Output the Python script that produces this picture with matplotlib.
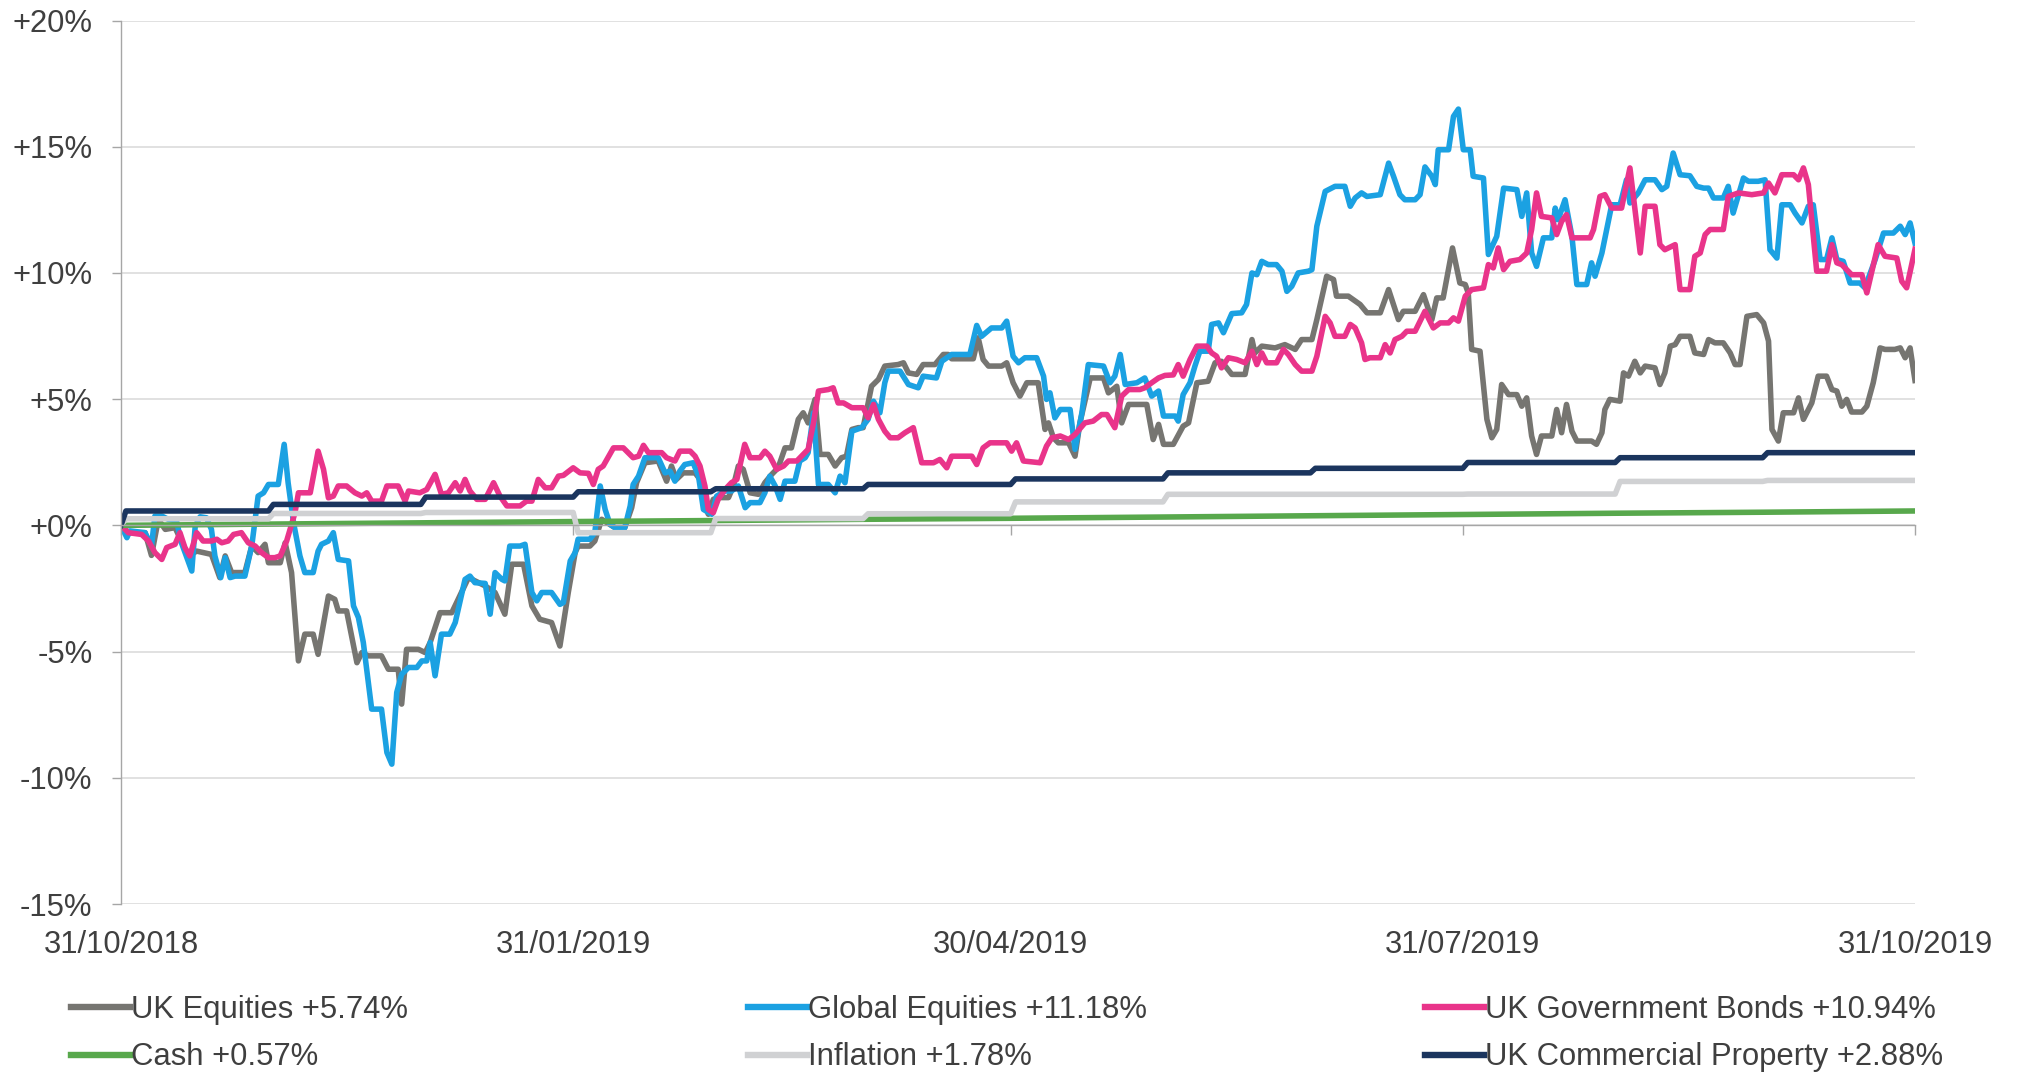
"""Asset class returns, 31/10/2018 - 31/10/2019"""
import numpy as np
import pandas as pd
import matplotlib
matplotlib.use('Agg')
import matplotlib.pyplot as plt
from matplotlib.ticker import FuncFormatter

plt.rcParams['font.family'] = ['Liberation Sans', 'DejaVu Sans']

start = pd.Timestamp('2018-10-31')

# daily series: (days since 31/10/2018, % return)
uk_eq_days = [0, 1.5, 4.9, 6.2, 7.6, 9.0, 11.0, 13.7, 15.4, 18.4, 20.1, 21.2, 22.5, 25.2, 26.6, 27.9, 29.3, 30.0,
              32.4, 33.4, 34.7, 36.1, 37.4, 39.1, 40.1, 42.2, 43.5, 44.2, 45.9, 48.0, 49.0, 50.3, 53.0, 54.4, 56.4,
              57.1, 58.1, 60.5, 61.9, 62.9, 64.9, 67.3, 70.7, 74.1, 76.1, 78.1, 79.5, 81.9, 83.6, 85.2, 87.6, 89.3,
              91.0, 92.4, 93.0, 95.4, 96.4, 97.8, 100.5, 102.5, 103.9, 104.9, 106.6, 109.3, 111.0, 112.0, 113.0,
              114.4, 116.8, 117.8, 118.8, 119.5, 120.5, 121.5, 123.6, 124.6, 125.6, 126.6, 128.0, 129.7, 131.0,
              132.4, 133.7, 135.1, 136.4, 137.8, 138.8, 139.8, 141.2, 142.2, 143.9, 145.3, 146.6, 147.6, 148.7,
              150.0, 151.0, 152.7, 154.1, 155.4, 158.1, 159.2, 160.2, 161.9, 163.2, 165.6, 167.3, 168.3, 169.0,
              173.4, 174.4, 175.4, 176.5, 179.2, 180.2, 181.5, 182.9, 184.3, 186.6, 188.0, 188.7, 189.7, 190.7,
              192.8, 194.1, 195.1, 197.2, 199.9, 200.9, 202.6, 203.6, 205.0, 208.7, 210.0, 211.1, 212.1, 214.1,
              216.1, 217.2, 218.9, 221.2, 222.6, 223.9, 226.0, 228.7, 230.1, 230.7, 232.1, 234.8, 236.8, 238.9,
              240.2, 242.3, 243.3, 245.3, 246.7, 247.3, 249.7, 252.1, 253.5, 256.2, 257.9, 259.9, 260.9, 263.3,
              265.0, 266.0, 266.7, 267.7, 269.0, 270.9, 272.4, 273.5, 274.1, 274.8, 276.5, 277.9, 278.9, 279.9,
              280.9, 282.3, 284.0, 285.0, 286.0, 287.0, 288.0, 289.0, 291.1, 292.1, 293.1, 294.1, 295.2, 296.2,
              299.2, 300.2, 301.3, 301.9, 302.9, 305.0, 305.7, 306.7, 308.0, 309.1, 310.1, 312.1, 313.1, 314.1,
              315.2, 316.2, 317.2, 319.2, 320.2, 322.0, 323.0, 324.3, 326.0, 327.4, 328.4, 329.4, 330.8, 332.8,
              334.2, 335.2, 335.9, 337.2, 338.2, 340.3, 341.3, 342.3, 344.0, 345.3, 347.0, 348.1, 349.1, 350.1,
              351.1, 352.1, 354.2, 355.2, 356.5, 357.9, 358.9, 360.9, 362.0, 363.0, 364.0, 365.0]
uk_eq_vals = [0, -0.29, -0.29, -1.19, 0.24, -0.16, -0.09, -1.21, -1.02, -1.15, -2.07, -1.21, -1.87, -1.87, -0.82,
              -1.08, -0.75, -1.48, -1.48, -0.69, -1.87, -5.37, -4.31, -4.31, -5.11, -2.80, -2.93, -3.39, -3.39,
              -5.44, -5.04, -5.17, -5.17, -5.70, -5.70, -7.08, -4.91, -4.91, -5.04, -4.64, -3.46, -3.46, -2.07,
              -2.40, -2.66, -3.52, -1.54, -1.54, -3.19, -3.72, -3.85, -4.78, -2.66, -1.08, -0.82, -0.82, -0.62,
              0.24, -0.09, -0.09, 0.70, 1.69, 2.48, 2.55, 1.75, 2.35, 1.82, 2.08, 2.08, 1.82, 0.77, 0.44, 1.03,
              1.10, 1.10, 1.56, 2.35, 2.22, 1.29, 1.23, 1.69, 2.02, 2.28, 3.07, 3.07, 4.20, 4.46, 4.06, 4.99, 2.81,
              2.81, 2.35, 2.68, 2.74, 3.80, 3.87, 3.87, 5.51, 5.78, 6.31, 6.37, 6.44, 6.04, 5.98, 6.37, 6.37, 6.77,
              6.77, 6.60, 6.60, 7.43, 6.57, 6.31, 6.31, 6.44, 5.65, 5.12, 5.65, 5.65, 3.80, 4.06, 3.47, 3.27, 3.27,
              2.74, 4.06, 5.84, 5.84, 5.25, 5.51, 4.06, 4.79, 4.79, 3.40, 4.00, 3.21, 3.21, 3.93, 4.06, 5.65, 5.71,
              6.44, 6.50, 5.98, 5.98, 7.36, 6.83, 7.10, 7.03, 7.16, 6.97, 7.36, 7.36, 8.15, 9.87, 9.74, 9.08, 9.08,
              8.75, 8.42, 8.42, 9.34, 8.15, 8.48, 8.48, 9.14, 8.55, 8.15, 9.01, 9.01, 10.99, 9.60, 9.54, 9.21, 6.97,
              6.90, 4.20, 3.47, 3.80, 5.58, 5.18, 5.18, 4.72, 5.05, 3.54, 2.81, 3.54, 3.54, 4.59, 3.67, 4.79, 3.73,
              3.34, 3.34, 3.21, 3.67, 4.59, 4.99, 4.92, 6.04, 5.91, 6.50, 6.04, 6.31, 6.24, 5.58, 6.04, 7.10, 7.16,
              7.49, 7.49, 6.83, 6.77, 7.36, 7.23, 7.23, 6.83, 6.37, 6.37, 8.28, 8.35, 8.02, 7.30, 3.80, 3.34, 4.46,
              4.46, 5.05, 4.20, 4.85, 5.91, 5.91, 5.38, 5.32, 4.72, 4.99, 4.49, 4.49, 4.72, 5.65, 7.03, 6.97, 6.97,
              7.03, 6.64, 7.03, 5.74]

gl_eq_days = [0, 1.2, 1.8, 4.9, 6.2, 6.9, 8.3, 9.6, 11.3, 12.3, 14.4, 15.1, 16.1, 17.4, 18.4, 19.1, 20.3, 21.2,
              22.2, 23.2, 25.2, 26.6, 27.9, 29.0, 30.0, 32.0, 33.2, 34.0, 35.1, 36.4, 37.4, 39.1, 40.1, 40.8, 42.2,
              43.2, 44.2, 46.3, 47.3, 48.3, 49.3, 51.0, 53.0, 54.1, 55.1, 56.1, 57.1, 58.5, 60.2, 61.2, 62.2, 62.9,
              63.9, 65.2, 66.9, 68.0, 70.0, 71.0, 72.0, 74.1, 75.1, 76.1, 77.5, 78.1, 79.1, 81.2, 82.2, 83.6, 84.6,
              85.6, 87.6, 89.3, 90.0, 91.4, 92.4, 93.0, 95.4, 96.4, 97.5, 98.5, 99.5, 100.5, 102.5, 103.6, 104.2,
              105.3, 106.6, 109.3, 110.7, 111.7, 112.7, 113.7, 114.7, 116.4, 117.5, 118.5, 120.2, 121.2, 122.9,
              124.2, 125.6, 127.0, 128.0, 130.0, 131.0, 132.0, 133.1, 134.1, 135.1, 137.1, 138.1, 139.2, 139.8,
              140.9, 141.9, 143.9, 145.3, 146.3, 147.3, 148.7, 150.7, 152.0, 153.1, 154.4, 155.4, 156.1, 158.5,
              160.2, 162.2, 163.2, 165.9, 167.0, 169.0, 172.7, 174.1, 175.1, 177.1, 179.2, 180.2, 181.5, 182.6,
              183.9, 186.3, 187.7, 188.3, 189.0, 190.0, 191.1, 193.1, 194.1, 195.5, 196.8, 199.9, 201.2, 202.2,
              203.3, 204.3, 206.7, 208.3, 209.7, 211.1, 212.1, 214.5, 215.1, 216.1, 217.5, 218.5, 219.5, 221.2,
              221.9, 223.3, 224.3, 226.0, 228.0, 229.0, 230.1, 231.1, 232.1, 233.4, 235.1, 236.2, 237.2, 238.2,
              239.5, 241.6, 242.3, 243.3, 245.0, 247.0, 249.0, 250.1, 251.1, 252.4, 253.5, 256.2, 257.9, 258.9,
              260.2, 261.2, 263.3, 264.3, 265.3, 266.7, 267.4, 268.0, 270.1, 271.1, 272.1, 273.1, 274.5, 275.1,
              277.2, 278.2, 279.9, 281.3, 284.0, 285.0, 286.0, 287.0, 288.0, 289.4, 291.1, 291.8, 292.4, 293.8,
              295.2, 296.2, 298.2, 299.2, 299.9, 301.3, 302.6, 303.3, 305.0, 306.3, 307.0, 308.7, 310.1, 312.1,
              313.5, 314.5, 315.8, 317.2, 319.2, 320.6, 322.0, 323.0, 324.0, 326.0, 327.0, 328.0, 330.1, 331.1,
              333.1, 334.5, 335.5, 336.9, 337.9, 339.6, 340.6, 342.0, 343.3, 344.3, 345.7, 347.0, 348.1, 349.1,
              350.4, 351.8, 353.8, 354.8, 356.9, 358.6, 360.6, 362.0, 363.0, 364.0, 365.0]
gl_eq_vals = [0, -0.49, -0.22, -0.29, -0.82, 0.37, 0.37, 0.24, 0.17, -0.69, -1.81, -0.03, 0.34, 0.30, -0.16,
              -1.21, -2.07, -1.28, -2.07, -2.01, -2.01, -0.82, 1.16, 1.29, 1.62, 1.62, 3.21, 1.69, 0.11, -1.21,
              -1.87, -1.87, -1.02, -0.75, -0.62, -0.29, -1.35, -1.41, -3.19, -3.65, -4.64, -7.28, -7.28, -9.00,
              -9.46, -6.62, -5.90, -5.63, -5.63, -5.37, -5.37, -4.64, -5.96, -4.31, -4.31, -3.85, -2.14, -2.01,
              -2.27, -2.30, -3.52, -1.87, -2.14, -2.20, -0.82, -0.82, -0.75, -2.66, -2.99, -2.66, -2.66, -3.13,
              -3.06, -1.41, -1.08, -0.55, -0.55, -0.29, 1.56, 0.63, 0.04, -0.09, -0.09, 0.77, 1.62, 1.95, 2.68,
              2.68, 2.08, 2.15, 1.75, 2.15, 2.41, 2.48, 1.95, 0.63, 0.44, 1.16, 1.36, 1.36, 1.56, 0.70, 0.90, 0.90,
              1.29, 1.95, 1.56, 1.03, 1.75, 1.75, 2.55, 2.68, 2.88, 4.46, 1.62, 1.62, 1.29, 1.95, 1.69, 3.73, 3.87,
              4.20, 4.92, 4.46, 5.65, 6.11, 6.11, 5.58, 5.45, 5.91, 5.84, 6.50, 6.77, 6.77, 7.92, 7.49, 7.82, 7.82,
              8.09, 6.70, 6.44, 6.64, 6.64, 5.91, 4.99, 5.25, 4.26, 4.59, 4.59, 3.01, 4.46, 6.37, 6.31, 5.65, 5.91,
              6.77, 5.58, 5.65, 5.84, 5.12, 5.32, 4.33, 4.33, 4.13, 5.18, 5.65, 6.31, 6.90, 6.90, 7.96, 8.02, 7.63,
              8.39, 8.42, 8.75, 10.00, 9.93, 10.46, 10.33, 10.33, 10.07, 9.27, 9.47, 10.00, 10.07, 10.13, 11.85,
              13.23, 13.43, 13.43, 12.64, 12.97, 13.17, 13.03, 13.10, 14.35, 13.83, 13.10, 12.90, 12.90, 13.10,
              14.20, 13.83, 13.50, 14.88, 14.88, 16.20, 16.49, 14.88, 14.88, 13.83, 13.76, 10.73, 11.45, 13.36,
              13.30, 12.24, 13.17, 10.79, 10.26, 11.39, 11.39, 12.57, 12.11, 12.90, 11.45, 9.54, 9.54, 10.40, 9.87,
              10.79, 12.04, 12.70, 12.70, 13.69, 12.77, 13.17, 13.69, 13.69, 13.30, 13.43, 14.75, 13.89, 13.85,
              13.43, 13.36, 13.36, 12.97, 12.97, 13.43, 12.37, 13.76, 13.63, 13.63, 13.69, 10.92, 10.59, 12.70,
              12.70, 12.37, 11.98, 12.64, 12.70, 10.53, 10.53, 11.39, 10.53, 10.46, 9.60, 9.60, 9.41, 10.53, 11.58,
              11.58, 11.85, 11.52, 11.98, 11.18]

gilt_days = [0, 1.5, 4.2, 5.6, 6.9, 8.3, 9.3, 11.0, 12.0, 13.0, 14.0, 15.4, 16.7, 18.4, 19.5, 20.5, 21.8, 22.9,
             24.5, 25.9, 27.3, 28.6, 30.0, 31.3, 32.4, 33.7, 35.4, 36.1, 38.5, 40.1, 41.2, 42.2, 43.2, 44.2, 45.9,
             47.6, 49.0, 50.0, 51.0, 53.0, 54.1, 56.4, 57.8, 58.5, 60.8, 62.2, 63.9, 65.2, 66.6, 68.0, 69.0, 70.0,
             71.0, 72.4, 74.1, 75.8, 77.1, 78.5, 81.2, 82.5, 83.6, 84.9, 86.3, 87.6, 89.0, 90.0, 92.0, 93.4, 95.1,
             96.1, 97.1, 98.1, 100.2, 102.2, 104.2, 105.3, 106.3, 107.3, 110.0, 111.0, 112.7, 113.7, 115.8, 116.8,
             117.8, 118.8, 119.5, 120.5, 121.5, 122.9, 124.2, 125.3, 126.9, 128.0, 130.0, 131.0, 132.0, 133.4,
             134.8, 135.8, 137.5, 138.8, 139.8, 140.9, 141.9, 143.9, 144.9, 145.9, 147.0, 148.7, 151.0, 152.0,
             153.1, 154.1, 155.4, 156.5, 158.1, 159.5, 161.2, 162.9, 165.3, 166.6, 168.0, 169.0, 173.1, 174.1,
             175.4, 176.8, 180.2, 181.2, 182.2, 183.6, 187.0, 188.3, 189.4, 191.1, 192.8, 194.1, 196.1, 197.8,
             199.5, 200.6, 202.2, 203.6, 205.0, 207.3, 208.3, 209.7, 211.1, 212.4, 214.1, 215.1, 216.1, 217.5,
             218.9, 220.9, 221.9, 222.9, 223.9, 225.3, 227.0, 228.7, 230.1, 231.1, 232.1, 233.1, 235.1, 236.5,
             237.5, 238.9, 240.2, 242.3, 243.3, 245.0, 246.0, 247.0, 249.0, 250.1, 251.1, 252.4, 253.1, 254.1,
             256.2, 257.2, 258.2, 259.2, 260.6, 261.6, 263.3, 265.3, 267.0, 268.4, 270.1, 271.1, 272.1, 273.5,
             274.8, 277.2, 278.2, 279.2, 280.2, 281.3, 282.6, 284.6, 286.0, 287.0, 288.0, 289.0, 291.1, 292.1,
             293.1, 294.1, 295.2, 298.9, 299.6, 300.9, 301.9, 303.3, 305.3, 307.0, 309.1, 310.1, 312.1, 313.1,
             314.1, 316.2, 317.2, 319.2, 320.2, 321.3, 322.3, 323.3, 326.0, 327.0, 329.1, 331.8, 334.2, 335.2,
             336.5, 337.9, 340.3, 341.3, 342.3, 343.3, 345.0, 347.0, 348.1, 349.1, 350.1, 352.1, 354.2, 355.2,
             357.5, 358.9, 361.3, 362.3, 363.3, 365.0]
gilt_vals = [0, -0.29, -0.36, -0.62, -1.08, -1.35, -0.88, -0.75, -0.29, -0.88, -1.21, -0.29, -0.62, -0.62, -0.55,
             -0.69, -0.62, -0.36, -0.29, -0.69, -0.82, -1.08, -1.28, -1.28, -1.21, -0.62, 0.50, 1.29, 1.29, 2.94,
             2.22, 1.09, 1.16, 1.56, 1.56, 1.29, 1.16, 1.29, 0.96, 0.96, 1.56, 1.56, 0.96, 1.36, 1.29, 1.42, 2.02,
             1.23, 1.29, 1.69, 1.36, 1.82, 1.36, 1.03, 1.03, 1.69, 1.16, 0.77, 0.77, 0.96, 0.96, 1.82, 1.49, 1.49,
             1.95, 1.98, 2.28, 2.08, 2.06, 1.62, 2.22, 2.35, 3.07, 3.07, 2.68, 2.74, 3.17, 2.88, 2.88, 2.68, 2.55,
             2.94, 2.94, 2.74, 2.35, 1.56, 0.63, 0.50, 1.03, 1.42, 1.69, 1.82, 3.21, 2.68, 2.68, 2.94, 2.74, 2.22,
             2.35, 2.55, 2.55, 2.81, 3.01, 4.06, 5.32, 5.38, 5.45, 4.85, 4.85, 4.66, 4.66, 4.26, 4.79, 4.20, 3.73,
             3.47, 3.47, 3.67, 3.87, 2.48, 2.48, 2.61, 2.28, 2.74, 2.74, 2.41, 3.07, 3.27, 3.27, 2.94, 3.27, 2.55,
             2.48, 3.14, 3.47, 3.54, 3.40, 3.60, 4.06, 4.13, 4.39, 4.39, 3.87, 5.12, 5.38, 5.38, 5.45, 5.65, 5.84,
             5.94, 5.96, 6.37, 5.91, 6.57, 7.10, 7.10, 6.83, 6.70, 6.24, 6.64, 6.57, 6.44, 6.90, 6.37, 6.83, 6.44,
             6.44, 6.97, 6.77, 6.37, 6.11, 6.11, 6.70, 8.28, 8.02, 7.49, 7.49, 7.96, 7.82, 7.23, 6.57, 6.64, 6.64,
             7.16, 6.83, 7.36, 7.49, 7.69, 7.69, 8.48, 7.82, 8.02, 8.02, 8.22, 8.09, 9.08, 9.34, 9.41, 10.33, 10.20,
             10.99, 10.13, 10.46, 10.53, 10.79, 11.72, 13.17, 12.24, 12.18, 11.52, 12.04, 12.31, 11.39, 11.39,
             11.72, 13.03, 13.10, 12.57, 12.57, 14.16, 10.79, 12.64, 12.64, 11.12, 10.92, 11.12, 9.34, 9.34, 10.66,
             10.79, 11.52, 11.72, 11.72, 13.03, 13.17, 13.10, 13.17, 13.56, 13.17, 13.89, 13.89, 13.69, 14.16,
             13.50, 10.07, 10.07, 11.12, 10.40, 10.33, 9.93, 9.93, 9.21, 11.12, 10.66, 10.59, 9.67, 9.41, 10.94]

# monthly series: month-end offsets and the level for each following month
month_end_days = [0, 30, 61, 92, 120, 151, 181, 212, 242, 273, 304, 334, 365]
cash_vals = [0.00, 0.05, 0.10, 0.15, 0.19, 0.24, 0.28, 0.33, 0.38, 0.43, 0.48, 0.52, 0.57]
inflation_levels = [0.26, 0.47, 0.51, -0.29, 0.27, 0.46, 0.93, 1.23, 1.23, 1.24, 1.74, 1.78]
property_levels = [0.57, 0.83, 1.12, 1.33, 1.45, 1.62, 1.84, 2.08, 2.26, 2.49, 2.68, 2.88]

tick_days = [0, 92, 181, 273, 365]


def monthly_steps(levels):
    days, vals = [0], [0.0]
    for i, lev in enumerate(levels):
        days += [month_end_days[i] + 1, month_end_days[i + 1]]
        vals += [lev, lev]
    return days, vals


def to_dates(days):
    return start + pd.to_timedelta(np.asarray(days, dtype=float), unit='D')


infl_days, infl_vals = monthly_steps(inflation_levels)
prop_days, prop_vals = monthly_steps(property_levels)

series = [
    ('UK Equities +5.74%', uk_eq_days, uk_eq_vals, '#767571'),
    ('Global Equities +11.18%', gl_eq_days, gl_eq_vals, '#1ba1e2'),
    ('UK Government Bonds +10.94%', gilt_days, gilt_vals, '#e9348a'),
    ('Cash +0.57%', month_end_days, cash_vals, '#58a84c'),
    ('Inflation +1.78%', infl_days, infl_vals, '#d0d1d3'),
    ('UK Commercial Property +2.88%', prop_days, prop_vals, '#1b355e'),
]

W, H = 2022, 1074
fig = plt.figure(figsize=(W / 100, H / 100), dpi=100)
ax = fig.add_axes([121 / W, 1 - 904 / H, (1915 - 121) / W, (904 - 20.5) / H])

txt = '#3f3f3f'
axc = '#a6a6a6'
fs = 22.3

lines = {}
for name, d, v, c in series:
    ln, = ax.plot(to_dates(d), v, color=c, lw=4.0, solid_joinstyle='round')
    lines[name] = ln

ax.set_xlim(start, start + pd.Timedelta(days=365))
ax.set_ylim(-15, 20)
ax.set_yticks(np.arange(-15, 21, 5))
ax.yaxis.set_major_formatter(FuncFormatter(lambda v, p: f'{v:+.0f}%'))
ax.yaxis.grid(True, color='#d9d9d9', lw=1.1)
ax.set_axisbelow(True)

for s in ['top', 'right']:
    ax.spines[s].set_visible(False)
ax.spines['left'].set_color(axc)
ax.spines['bottom'].set_color(axc)
ax.spines['left'].set_linewidth(1.0)
ax.spines['bottom'].set_linewidth(1.0)
ax.spines['bottom'].set_position(('data', 0))

ax.tick_params(axis='y', length=6.5, width=1.0, color=axc, pad=14,
               labelsize=fs, labelcolor=txt)
ax.set_xticks(to_dates(tick_days))
ax.tick_params(axis='x', length=7, width=1.0, color=axc, labelbottom=False)

for d in to_dates(tick_days):
    ax.text(d, -0.046, d.strftime('%d/%m/%Y'), transform=ax.get_xaxis_transform(),
            ha='center', va='center', fontsize=fs, color=txt)

# legend in three fixed columns, two rows each
cols = [(71, ['UK Equities +5.74%', 'Cash +0.57%']),
        (748, ['Global Equities +11.18%', 'Inflation +1.78%']),
        (1425, ['UK Government Bonds +10.94%', 'UK Commercial Property +2.88%'])]
for x0, names in cols:
    handles = [plt.Line2D([], [], color=lines[n].get_color(), lw=4.6) for n in names]
    leg = fig.legend(handles, names, loc='upper left', bbox_to_anchor=(x0 / W, 1 - 995 / H),
                     frameon=False, fontsize=fs, handlelength=1.9, handletextpad=0.05,
                     borderpad=0, borderaxespad=0, labelspacing=0.56)
    for t in leg.get_texts():
        t.set_color(txt)

fig.savefig('out.png', dpi=100, facecolor='white')
